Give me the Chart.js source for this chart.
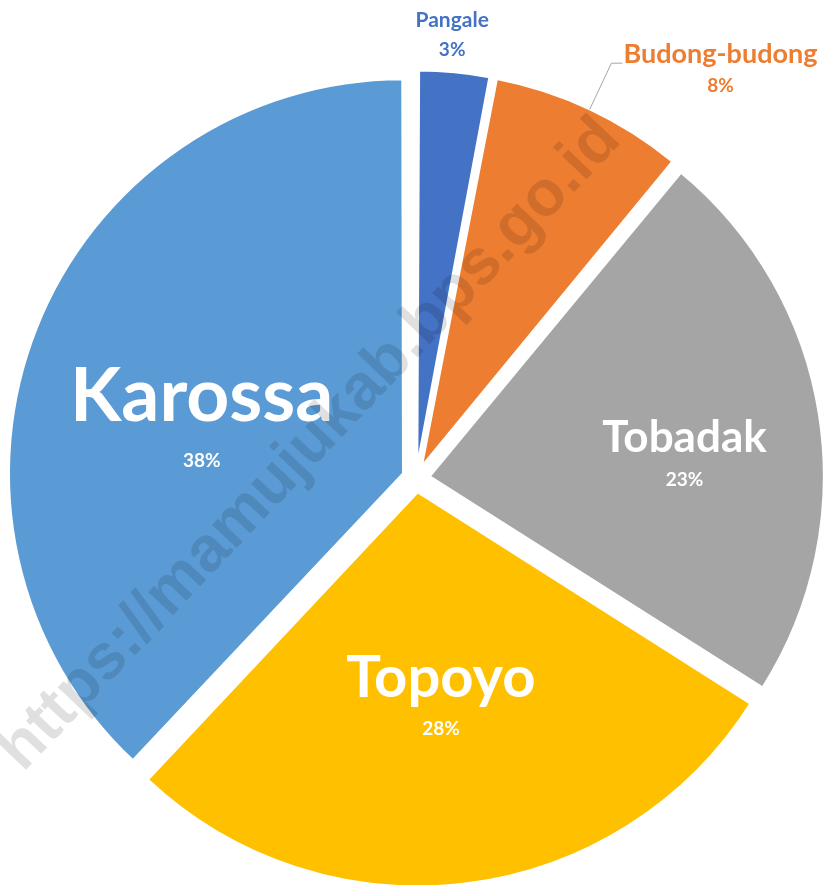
<!DOCTYPE html>
<html>
<head>
<meta charset="utf-8">
<script src="https://cdn.jsdelivr.net/npm/chart.js@4.4.0/dist/chart.umd.min.js"></script>
<style>
  html, body { margin: 0; padding: 0; background: #fff; }
  #wrap { width: 823px; height: 885px; position: relative; }
</style>
</head>
<body>
<div id="wrap"><canvas id="myChart"></canvas></div>
<script>
const kecamatan = ['Pangale', 'Budong-budong', 'Tobadak', 'Topoyo', 'Karossa'];
const persen = [3, 8, 23, 28, 38];
const warna = ['#4472C4', '#ED7D31', '#A5A5A5', '#FFC000', '#5B9BD5'];
const watermark = 'https://mamujukab.bps.go.id';

// how each slice label looks: rf = distance from centre as part of radius, da = angle tweak (deg)
const labelStyle = [
    {out: true, rf: 1.17, da: -0.9, name: 21, pct: 19, color: '#4472C4', gap: 37},
    {out: true, rf: 1.165, da: 0, name: 27, pct: 19, color: '#ED7D31', gap: 29, leader: true},
    {rf: 0.69, da: 0, name: 44, pct: 19, color: '#FFFFFF', gap: 50},
    {rf: 0.505, da: 0, name: 58, pct: 19, color: '#FFFFFF', gap: 59},
    {rf: 0.585, da: 0, name: 75, pct: 19, color: '#FFFFFF', gap: 73}
];

const FONT = 'Lato, "Open Sans", sans-serif';

const sliceLabels = {
    id: 'sliceLabels',
    // v4 makes narrow exploded slices a bit bigger, keep every slice the same radius
    afterUpdate(chart) {
        chart.getDatasetMeta(0).data.forEach(arc => {
            const off = (arc.options.offset || 0) / 4;
            const circ = arc.endAngle - arc.startAngle;
            const fix = 1 - Math.sin(Math.min(Math.PI, circ));
            arc.outerRadius = arc.outerRadius - off * fix;
        });
    },
    afterDatasetsDraw(chart) {
        const ctx = chart.ctx;
        const meta = chart.getDatasetMeta(0);
        const R = meta.controller.outerRadius;
        ctx.save();
        meta.data.forEach((arc, i) => {
            const st = labelStyle[i];
            const mid = (arc.startAngle + arc.endAngle) / 2;
            const la = mid + st.da * Math.PI / 180;
            const off = (arc.options.offset || 0) / 4;
            const ax = arc.x + Math.cos(la) * st.rf * R;
            const ay = arc.y + Math.sin(la) * st.rf * R;
            const pctText = persen[i] + '%';
            ctx.fillStyle = st.color;
            if (st.leader) {
                ctx.strokeStyle = '#A6A6A6';
                ctx.lineWidth = 1;
                ctx.beginPath();
                ctx.moveTo(arc.x + Math.cos(mid) * (R + off), arc.y + Math.sin(mid) * (R + off));
                ctx.lineTo(ax, ay);
                ctx.lineTo(ax + 11, ay);
                ctx.stroke();
                ctx.font = 'bold ' + st.name + 'px ' + FONT;
                ctx.textAlign = 'left';
                ctx.textBaseline = 'alphabetic';
                const w = ctx.measureText(kecamatan[i]).width;
                ctx.fillText(kecamatan[i], ax + 12, ay);
                ctx.font = 'bold ' + st.pct + 'px ' + FONT;
                ctx.textAlign = 'center';
                ctx.fillText(pctText, ax + 12 + w / 2, ay + st.gap);
            } else {
                ctx.textAlign = 'center';
                ctx.textBaseline = 'alphabetic';
                ctx.font = 'bold ' + st.name + 'px ' + FONT;
                ctx.fillText(kecamatan[i], ax, ay + 0.36 * st.name);
                ctx.font = 'bold ' + st.pct + 'px ' + FONT;
                ctx.fillText(pctText, ax, ay + st.gap);
            }
        });
        ctx.restore();
    },
    afterDraw(chart) {
        const ctx = chart.ctx;
        ctx.save();
        ctx.translate(310, 445);
        ctx.rotate(-46.5 * Math.PI / 180);
        ctx.font = 'bold 64px "Liberation Sans", Arial, sans-serif';
        ctx.textAlign = 'center';
        ctx.textBaseline = 'middle';
        ctx.fillStyle = 'rgba(0,0,0,0.12)';
        ctx.fillText(watermark, 0, 0);
        ctx.restore();
    }
};

const data = {
    labels: kecamatan,
    datasets: [{
        data: persen,
        backgroundColor: warna,
        borderColor: '#FFFFFF',
        borderWidth: 2,
        offset: 56,
        radius: 394
    }]
};

const config = {
    type: 'pie',
    data: data,
    options: {
        responsive: true,
        maintainAspectRatio: false,
        animation: false,
        layout: {
            padding: {left: 9, top: 72, right: 0, bottom: 0}
        },
        plugins: {
            legend: {display: false},
            tooltip: {enabled: false}
        }
    },
    plugins: [sliceLabels]
};

new Chart(document.getElementById('myChart'), config);
</script>
</body>
</html>
